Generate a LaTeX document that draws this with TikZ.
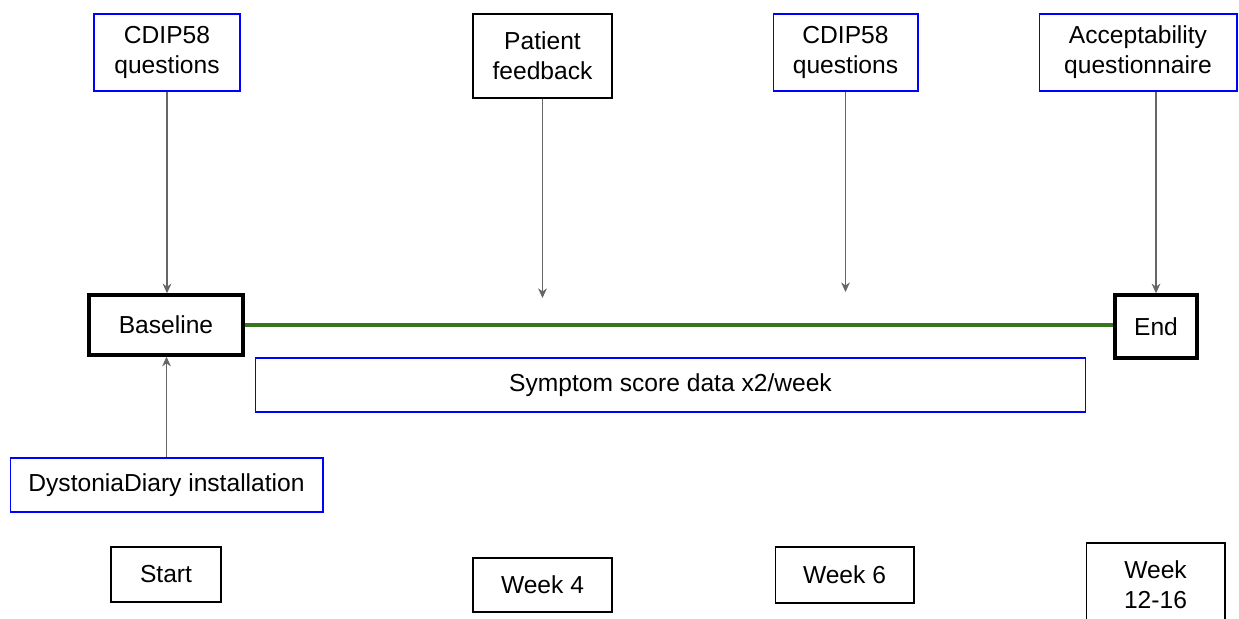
\documentclass[tikz,border=0pt]{standalone}
\usepackage{fontspec}
\setmainfont{Liberation Sans}
\usetikzlibrary{arrows.meta}
\definecolor{linegreen}{HTML}{38761D}
\definecolor{arrowgray}{HTML}{666666}

\begin{document}
\begin{tikzpicture}[x=0.02cm,y=-0.02cm]
\tikzset{every node/.style={font=\fontsize{14}{17}\selectfont,align=center,inner sep=0pt}}
\tikzset{event/.style={draw=blue,line width=0.6pt}}
\tikzset{week/.style={draw=black,line width=0.6pt}}
\tikzset{phase/.style={draw=black,line width=2pt}}
\tikzset{feed/.style={draw=arrowgray,line width=0.6pt,-{Stealth[length=5.5pt,width=5pt]}}}

\useasboundingbox (0,0) rectangle (1239,618);

% assessments above the timeline
\node[event,minimum width=2.92cm,minimum height=1.54cm] (cdipA) at (167,52.5) {CDIP58\\questions};
\node[week,minimum width=2.78cm,minimum height=1.68cm] (feedback) at (542.5,56) {Patient\\feedback};
\node[event,minimum width=2.9cm,minimum height=1.54cm] (cdipB) at (845.5,52.5) {CDIP58\\questions};
\node[event,minimum width=3.96cm,minimum height=1.54cm] (accept) at (1138,52.5) {Acceptability\\questionnaire};

% timeline
\node[phase,minimum width=3.08cm,minimum height=1.2cm] (baseline) at (166,325) {Baseline};
\node[phase,minimum width=1.64cm,minimum height=1.26cm] (endbox) at (1156,326.5) {End};
\node[event,minimum width=16.62cm,minimum height=1.08cm] (symptom) at (670.5,385) {Symptom score data x2/week};
\node[event,minimum width=6.26cm,minimum height=1.08cm] (diary) at (166.5,485) {DystoniaDiary installation};

% weeks
\node[week,minimum width=2.2cm,minimum height=1.1cm] (start) at (166,574.5) {Start};
\node[week,minimum width=2.78cm,minimum height=1.08cm] (weekA) at (542.5,585) {Week 4};
\node[week,minimum width=2.78cm,minimum height=1.12cm] (weekB) at (844.5,575) {Week 6};
\node[week,minimum width=2.78cm,minimum height=1.68cm] (weekC) at (1155.5,585) {Week\\12-16};

\coordinate (fbEnd) at (542.5,298);
\coordinate (cdipEnd) at (845.5,292);

\draw[linegreen,line width=2.2pt] (baseline.east) -- (baseline.east -| endbox.west);
\draw[feed] (cdipA.south) -- (cdipA.south |- baseline.north);
\draw[feed] (feedback.south) -- (fbEnd);
\draw[feed] (cdipB.south) -- (cdipEnd);
\draw[feed] (endbox.north |- accept.south) -- (endbox.north);
\draw[feed] (diary.north) -- (diary.north |- baseline.south);

\end{tikzpicture}
\end{document}
